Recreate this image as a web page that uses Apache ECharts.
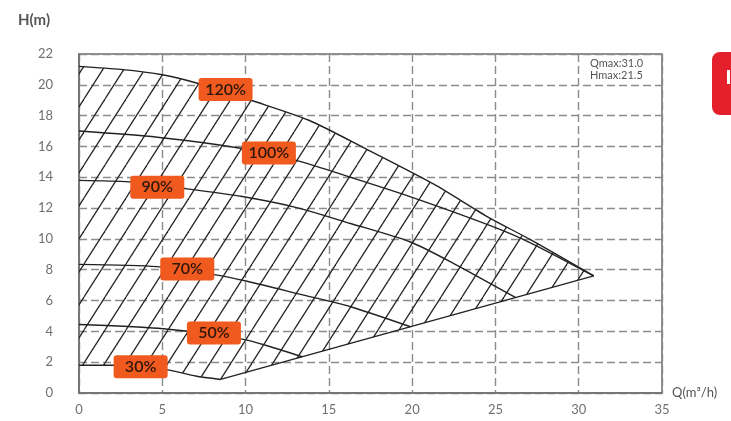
<!DOCTYPE html>
<html>
<head>
<meta charset="utf-8">
<script src="https://cdn.jsdelivr.net/npm/echarts@6/dist/echarts.min.js"></script>
<style>
html,body{margin:0;padding:0;background:#fff;}
#chart{width:731px;height:421px;}
</style>
</head>
<body>
<div id="chart"></div>
<script>
// ---- data ----
const xTicks = [0, 5, 10, 15, 20, 25, 30, 35];
const yTicks = [0, 2, 4, 6, 8, 10, 12, 14, 16, 18, 20, 22];

const q120 = [0, 2.5, 5, 7.1, 10.6, 13.8, 17.3, 21.3, 24.5, 27.1, 30.9];
const h120 = [21.2, 21.0, 20.65, 20.1, 18.9, 17.7, 15.8, 13.55, 11.45, 9.95, 7.6];

const q100 = [0, 4.7, 9.6, 13.2, 16.3, 20, 24.85, 27.1, 30.9];
const h100 = [17.0, 16.6, 15.9, 15.05, 14.0, 12.7, 10.8, 9.75, 7.6];

const q90 = [0, 3, 6.5, 9.8, 13, 16.3, 19.9, 22.5, 26.2];
const h90 = [13.8, 13.7, 13.25, 12.75, 12.05, 11.0, 9.8, 8.4, 6.2];

const q70 = [0, 4.7, 8.3, 10.1, 13.3, 16.3, 19.9];
const h70 = [8.35, 8.2, 7.65, 7.25, 6.4, 5.6, 4.3];

const q50 = [0, 4.75, 9.8, 11.5, 13.4];
const h50 = [4.45, 4.2, 3.5, 3.0, 2.35];

const q30 = [0, 2.2, 5.35, 7, 8.5];
const h30 = [1.8, 1.8, 1.5, 1.1, 0.88];

const qLimit = [8.5, 30.9];
const hLimit = [0.88, 7.6];

const labelText = ['120%', '100%', '90%', '70%', '50%', '30%'];
const labelQ = [8.8, 11.4, 4.7, 6.5, 8.1, 3.7];
const labelH = [19.7, 15.57, 13.35, 8.05, 3.9, 1.7];

const annotation = ['Qmax:31.0', 'Hmax:21.5'];

// ---- helpers ----
function pairs(qs, hs) { return qs.map((q, i) => [q, hs[i]]); }

function makeHatch() {
  const w = 21, h = 33;
  const c = document.createElement('canvas');
  c.width = w; c.height = h;
  const ctx = c.getContext('2d');
  ctx.strokeStyle = '#222';
  ctx.lineWidth = 1.25;
  for (let k = -1; k <= 1; k++) {
    ctx.beginPath();
    ctx.moveTo(k * w, h);
    ctx.lineTo(k * w + w, 0);
    ctx.stroke();
  }
  return c;
}
const hatch = makeHatch();

const curveStyle = { color: '#222', width: 1.4 };
function curve(name, qs, hs) {
  return {
    name: name, type: 'line', data: pairs(qs, hs), symbol: 'none',
    smooth: 0.25, lineStyle: curveStyle, z: 3, silent: true, animation: false
  };
}

const chart = echarts.init(document.getElementById('chart'), null, { renderer: 'canvas' });
const font = 'Lato, "Noto Sans", sans-serif';
const boxPath = 'path://M3,0 H51 Q54,0 54,3 V20 Q54,23 51,23 H3 Q0,23 0,20 V3 Q0,0 3,0 Z';

chart.setOption({
  animation: false,
  backgroundColor: '#ffffff',
  textStyle: { fontFamily: font },
  grid: { left: 79, right: 69, top: 54, bottom: 28, show: true, borderColor: '#6e6e6e', borderWidth: 1.5, backgroundColor: 'transparent' },
  xAxis: {
    type: 'value', min: xTicks[0], max: xTicks[xTicks.length - 1], interval: 5,
    name: 'Q(m³/h)', nameLocation: 'end', nameGap: 10,
    nameTextStyle: { color: '#555', fontSize: 13, fontFamily: font, verticalAlign: 'middle', padding: [34, 0, 0, 0] },
    axisLine: { show: true, lineStyle: { color: '#6e6e6e', width: 1.5 } },
    axisTick: { show: false },
    axisLabel: { color: '#707070', fontSize: 13, margin: 10, fontFamily: font },
    splitLine: { show: true, lineStyle: { color: '#8c8c8c', width: 1.4, type: [8, 4] } }
  },
  yAxis: {
    type: 'value', min: yTicks[0], max: yTicks[yTicks.length - 1], interval: 2,
    name: 'H(m)', nameLocation: 'end', nameGap: 26,
    nameTextStyle: { color: '#555', fontSize: 15, fontWeight: 'bold', fontFamily: font, align: 'right', padding: [0, 29, 0, 0] },
    axisLine: { show: true, lineStyle: { color: '#6e6e6e', width: 1.5 } },
    axisTick: { show: false },
    axisLabel: { color: '#707070', fontSize: 13, margin: 26, fontFamily: font },
    splitLine: { show: true, lineStyle: { color: '#8c8c8c', width: 1.4, type: [8, 4] } }
  },
  graphic: [
    { type: 'text', left: 590, top: 57, style: { text: annotation.join('\n'), fill: '#555', font: '11px ' + font, lineHeight: 12 } },
    { type: 'rect', shape: { x: 712, y: 52, width: 40, height: 63, r: 8 }, style: { fill: '#E3202B' } },
    { type: 'rect', shape: { x: 727, y: 70, width: 3, height: 14 }, style: { fill: '#ffffff' } }
  ],
  series: [
    {
      type: 'custom', coordinateSystem: 'cartesian2d', data: [[0, 0]], silent: true, z: 1,
      renderItem: function (params, api) {
        const pts = [];
        for (let i = 0; i < q120.length; i++) pts.push(api.coord([q120[i], h120[i]]));
        for (let i = qLimit.length - 1; i >= 0; i--) pts.push(api.coord([qLimit[i], hLimit[i]]));
        for (let i = q30.length - 1; i >= 0; i--) pts.push(api.coord([q30[i], h30[i]]));
        return { type: 'polygon', shape: { points: pts }, style: { fill: { image: hatch, repeat: 'repeat' }, stroke: null } };
      }
    },
    curve('120%', q120, h120),
    curve('100%', q100, h100),
    curve('90%', q90, h90),
    curve('70%', q70, h70),
    curve('50%', q50, h50),
    curve('30%', q30, h30),
    { name: 'limit', type: 'line', data: pairs(qLimit, hLimit), symbol: 'none', lineStyle: curveStyle, z: 3, silent: true },
    {
      name: 'labels', type: 'scatter', z: 6, silent: true,
      data: labelQ.map((q, i) => ({ value: [q, labelH[i]], name: labelText[i] })),
      symbol: boxPath, symbolSize: [54, 23], symbolKeepAspect: false,
      itemStyle: { color: '#F05A1E', opacity: 1 },
      label: { show: true, position: 'inside', formatter: p => p.name, color: '#2e160b', fontSize: 16, fontFamily: font, fontWeight: 600 }
    }
  ]
});
</script>
</body>
</html>
